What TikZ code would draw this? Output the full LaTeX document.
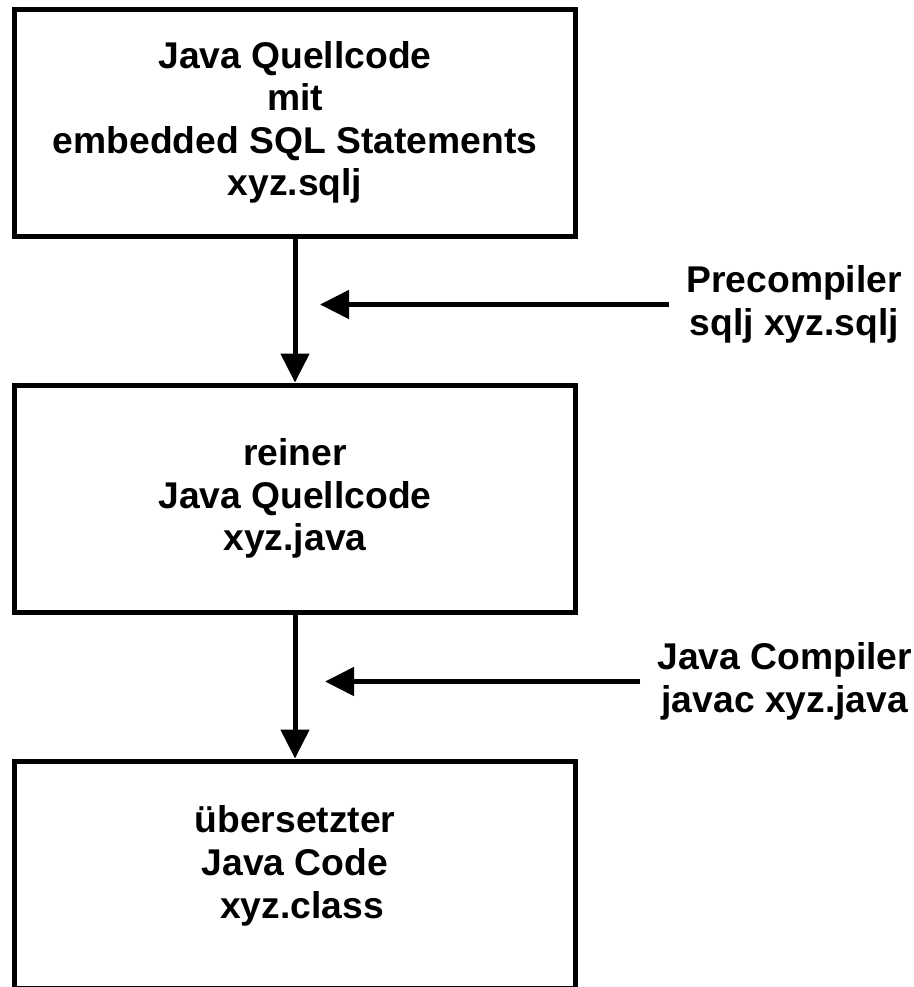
\documentclass[tikz,border=0pt]{standalone}
\usepackage{fontspec}
\setmainfont{Liberation Sans}
\usetikzlibrary{arrows.meta,positioning,calc}

\begin{document}
\begin{tikzpicture}[
        %Environment Cfg.
        font=\fontsize{21.2}{24.2}\selectfont\bfseries,
        >={Triangle[length=5.8mm,width=5.6mm]},%from arrows.meta
        line width=1mm,
        %Environment Styles.
        stageBox/.style={
            rectangle,
            draw=black,
            minimum width=112.2mm,
            minimum height=45.4mm,
            align=center
        },
        toolLabel/.style={
            align=center,
            inner sep=3mm
        },
    ]
    \useasboundingbox (0,0) rectangle (18.28,-19.74);

    %the three stages of the code
    \node[stageBox] (SRC) at (5.9,-2.45)
        {Java Quellcode\\mit\\embedded SQL Statements\\xyz.sqlj};
    \node[stageBox, below=28.8mm of SRC] (JAVA)
        {reiner\\Java Quellcode\\xyz.java};
    \node[stageBox, below=28.8mm of JAVA, text depth=5mm] (CLASS)
        {übersetzter\\Java Code\hspace*{4.8mm}\\\hspace*{2.8mm}xyz.class};

    %where the tools come in
    \coordinate (preTip) at ($(SRC.south)!0.5!(JAVA.north)+(0.5,0.12)$);
    \coordinate (comTip) at ($(JAVA.south)!0.5!(CLASS.north)+(0.6,0.1)$);
    \node[toolLabel, right=6.98cm of preTip] (PRE) {Precompiler\\sqlj xyz.sqlj};
    \node[toolLabel, right=6.3cm of comTip] (COM) {Java Compiler\\javac xyz.java};

    %Draw the flow.
    \draw[->] (SRC.south)--(JAVA.north);
    \draw[->] (JAVA.south)--(CLASS.north);
    \draw[->] (PRE.west)--(preTip);
    \draw[->] (COM.west)--(comTip);

\end{tikzpicture}
\end{document}
